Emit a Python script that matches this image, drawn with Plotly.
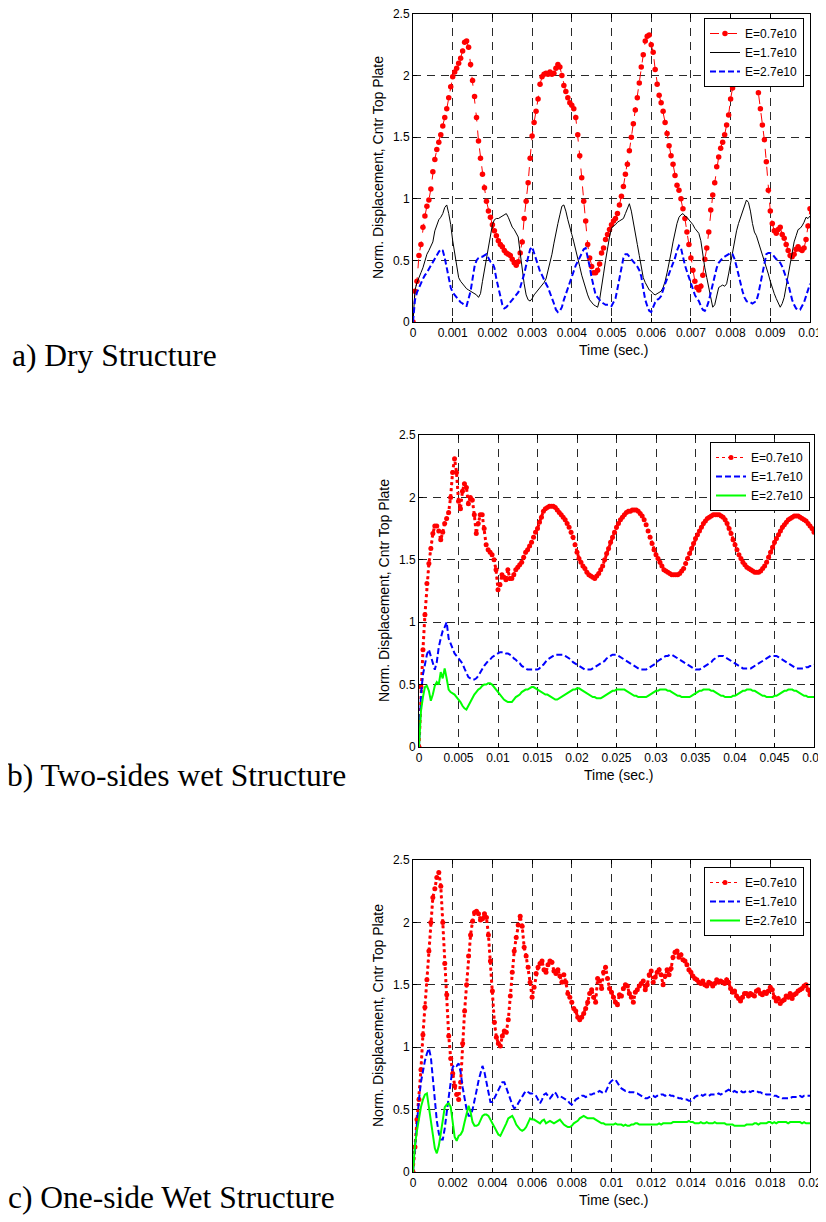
"""Normalised centre-plate displacement vs time for three structure cases.

Three stacked MATLAB-style panels (dry, two-sides wet, one-side wet),
each with a caption to its left.
"""

import numpy as np
import plotly.graph_objects as go

PAGE_W, PAGE_H = 826, 1222
BODY_MARGIN = 8  # default page margin around the plot div
W, H = PAGE_W - BODY_MARGIN, PAGE_H - BODY_MARGIN
FONT = "Liberation Sans, Arial, sans-serif"
SERIF = "Liberation Serif, Times New Roman, serif"

# ---- panel a: dry structure, sampled every 0.05 ms ----
A_DT = 0.00005
A_RED = [
    0.00, 0.25, 0.33, 0.54, 0.63, 0.77, 0.86, 0.94, 0.99, 1.08,
    1.22, 1.32, 1.40, 1.46, 1.52, 1.59, 1.66, 1.73, 1.82, 1.91,
    1.99, 2.03, 2.06, 2.10, 2.14, 2.20, 2.27, 2.28, 2.23, 2.09,
    1.96, 1.83, 1.66, 1.47, 1.33, 1.20, 1.09, 0.98, 0.90, 0.85,
    0.79, 0.74, 0.70, 0.66, 0.63, 0.61, 0.58, 0.56, 0.55, 0.54,
    0.51, 0.48, 0.46, 0.49, 0.56, 0.65, 0.84, 0.98, 1.13, 1.33,
    1.51, 1.62, 1.71, 1.81, 1.93, 1.99, 2.01, 2.02, 2.01, 2.03,
    2.01, 2.02, 2.06, 2.09, 2.07, 2.00, 1.92, 1.87, 1.82, 1.78,
    1.76, 1.73, 1.66, 1.52, 1.35, 1.17, 0.98, 0.82, 0.63, 0.52,
    0.45, 0.40, 0.40, 0.42, 0.47, 0.56, 0.60, 0.67, 0.71, 0.75,
    0.79, 0.82, 0.84, 0.88, 0.95, 1.02, 1.10, 1.20, 1.28, 1.39,
    1.50, 1.61, 1.72, 1.82, 1.94, 2.07, 2.17, 2.28, 2.32, 2.33,
    2.25, 2.19, 2.05, 1.93, 1.84, 1.78, 1.71, 1.62, 1.53, 1.43,
    1.35, 1.28, 1.19, 1.11, 1.07, 1.00, 0.92, 0.84, 0.73, 0.63,
    0.52, 0.42, 0.33, 0.28, 0.26, 0.29, 0.38, 0.51, 0.60, 0.73,
    0.91, 1.03, 1.13, 1.26, 1.34, 1.41, 1.46, 1.52, 1.60, 1.68,
    1.81, 1.90, 1.95, 1.99, 1.98, 1.99, 2.01, 2.03, 2.05, 2.07,
    2.08, 2.07, 2.04, 1.97, 1.86, 1.73, 1.60, 1.48, 1.30, 1.07,
    0.90, 0.80, 0.74, 0.72, 0.75, 0.77, 0.71, 0.68, 0.63, 0.58,
    0.54, 0.53, 0.55, 0.59, 0.61, 0.59, 0.58, 0.60, 0.67, 0.78,
    0.92,
]
A_BLACK = [
    0.00, 0.26, 0.32, 0.37, 0.40, 0.44, 0.49, 0.55, 0.58, 0.61,
    0.65, 0.74, 0.79, 0.83, 0.85, 0.88, 0.93, 0.95, 0.88, 0.79,
    0.66, 0.55, 0.44, 0.36, 0.33, 0.31, 0.29, 0.27, 0.26, 0.25,
    0.24, 0.23, 0.22, 0.20, 0.23, 0.33, 0.42, 0.51, 0.60, 0.69,
    0.79, 0.83, 0.84, 0.84, 0.85, 0.86, 0.87, 0.88, 0.85, 0.80,
    0.77, 0.75, 0.72, 0.69, 0.56, 0.42, 0.31, 0.22, 0.18, 0.17,
    0.19, 0.22, 0.24, 0.26, 0.28, 0.30, 0.32, 0.35, 0.41, 0.47,
    0.55, 0.64, 0.73, 0.80, 0.87, 0.94, 0.95, 0.90, 0.83, 0.76,
    0.71, 0.65, 0.59, 0.52, 0.45, 0.38, 0.32, 0.26, 0.22, 0.18,
    0.16, 0.14, 0.13, 0.12, 0.18, 0.27, 0.39, 0.50, 0.60, 0.69,
    0.76, 0.78, 0.79, 0.81, 0.82, 0.83, 0.84, 0.88, 0.92, 0.96,
    0.90, 0.82, 0.73, 0.63, 0.54, 0.43, 0.36, 0.32, 0.29, 0.26,
    0.25, 0.23, 0.22, 0.23, 0.24, 0.25, 0.28, 0.33, 0.40, 0.47,
    0.56, 0.65, 0.74, 0.80, 0.85, 0.87, 0.88, 0.86, 0.85, 0.83,
    0.81, 0.79, 0.76, 0.74, 0.72, 0.66, 0.54, 0.44, 0.36, 0.28,
    0.20, 0.12, 0.14, 0.22, 0.28, 0.29, 0.30, 0.29, 0.31, 0.39,
    0.48, 0.57, 0.67, 0.74, 0.80, 0.85, 0.90, 0.94, 0.99, 0.97,
    0.90, 0.80, 0.73, 0.70, 0.65, 0.61, 0.56, 0.50, 0.45, 0.39,
    0.33, 0.27, 0.23, 0.19, 0.15, 0.12, 0.15, 0.20, 0.29, 0.38,
    0.47, 0.56, 0.65, 0.70, 0.75, 0.76, 0.78, 0.81, 0.85, 0.84,
    0.86,
]
A_BLUE = [
    0.00, 0.18, 0.24, 0.28, 0.31, 0.35, 0.38, 0.40, 0.43, 0.46,
    0.48, 0.52, 0.55, 0.57, 0.59, 0.58, 0.52, 0.44, 0.35, 0.28,
    0.24, 0.22, 0.20, 0.18, 0.16, 0.15, 0.13, 0.13, 0.18, 0.25,
    0.35, 0.45, 0.50, 0.52, 0.53, 0.53, 0.54, 0.55, 0.52, 0.49,
    0.48, 0.44, 0.35, 0.27, 0.20, 0.14, 0.11, 0.12, 0.14, 0.16,
    0.18, 0.20, 0.22, 0.24, 0.28, 0.33, 0.39, 0.46, 0.53, 0.59,
    0.61, 0.56, 0.50, 0.45, 0.41, 0.38, 0.34, 0.31, 0.28, 0.24,
    0.20, 0.15, 0.10, 0.08, 0.09, 0.12, 0.18, 0.23, 0.28, 0.32,
    0.37, 0.42, 0.46, 0.49, 0.52, 0.56, 0.59, 0.60, 0.53, 0.45,
    0.36, 0.28, 0.22, 0.20, 0.18, 0.16, 0.15, 0.14, 0.14, 0.14,
    0.13, 0.16, 0.19, 0.27, 0.36, 0.46, 0.52, 0.55, 0.55, 0.53,
    0.51, 0.49, 0.47, 0.45, 0.42, 0.37, 0.27, 0.18, 0.13, 0.09,
    0.08, 0.12, 0.16, 0.18, 0.19, 0.21, 0.27, 0.31, 0.35, 0.39,
    0.44, 0.48, 0.52, 0.58, 0.62, 0.60, 0.52, 0.46, 0.41, 0.36,
    0.32, 0.27, 0.22, 0.19, 0.17, 0.13, 0.10, 0.09, 0.12, 0.17,
    0.24, 0.30, 0.38, 0.44, 0.48, 0.50, 0.52, 0.53, 0.54, 0.55,
    0.56, 0.55, 0.51, 0.45, 0.38, 0.32, 0.25, 0.20, 0.17, 0.16,
    0.16, 0.15, 0.16, 0.17, 0.23, 0.31, 0.42, 0.50, 0.55, 0.56,
    0.56, 0.55, 0.53, 0.51, 0.50, 0.48, 0.45, 0.41, 0.36, 0.31,
    0.24, 0.18, 0.14, 0.11, 0.10, 0.10, 0.13, 0.16, 0.21, 0.26,
    0.31,
]

# ---- panel b: two-sides wet, sampled every 0.25 ms ----
B_DT = 0.00025
B_RED = [
    0.00, 0.48, 0.78, 1.06, 1.31, 1.47, 1.59, 1.71, 1.77, 1.77,
    1.73, 1.66, 1.72, 1.79, 1.83, 1.88, 2.00, 2.20, 2.31, 2.20,
    1.97, 1.91, 2.05, 2.11, 2.08, 1.95, 2.00, 1.98, 1.86, 1.71,
    1.79, 1.86, 1.86, 1.75, 1.62, 1.58, 1.56, 1.54, 1.50, 1.42,
    1.26, 1.30, 1.38, 1.36, 1.34, 1.42, 1.35, 1.35, 1.38, 1.42,
    1.44, 1.46, 1.48, 1.52, 1.56, 1.58, 1.61, 1.64, 1.68, 1.72,
    1.75, 1.80, 1.84, 1.89, 1.91, 1.92, 1.93, 1.93, 1.93, 1.92,
    1.90, 1.88, 1.86, 1.84, 1.82, 1.79, 1.76, 1.72, 1.68, 1.62,
    1.56, 1.51, 1.48, 1.45, 1.43, 1.40, 1.38, 1.37, 1.36, 1.35,
    1.37, 1.39, 1.42, 1.45, 1.50, 1.55, 1.59, 1.64, 1.68, 1.72,
    1.76, 1.79, 1.82, 1.84, 1.86, 1.88, 1.89, 1.89, 1.90, 1.90,
    1.90, 1.89, 1.87, 1.85, 1.82, 1.78, 1.73, 1.68, 1.63, 1.58,
    1.54, 1.51, 1.48, 1.45, 1.42, 1.41, 1.40, 1.39, 1.38, 1.38,
    1.38, 1.38, 1.39, 1.41, 1.43, 1.47, 1.51, 1.55, 1.59, 1.63,
    1.67, 1.70, 1.73, 1.76, 1.79, 1.81, 1.83, 1.84, 1.85, 1.86,
    1.86, 1.86, 1.86, 1.85, 1.84, 1.82, 1.79, 1.75, 1.71, 1.66,
    1.62, 1.58, 1.54, 1.51, 1.48, 1.46, 1.44, 1.43, 1.42, 1.41,
    1.40, 1.40, 1.40, 1.41, 1.43, 1.45, 1.48, 1.52, 1.56, 1.60,
    1.64, 1.67, 1.70, 1.73, 1.76, 1.78, 1.80, 1.82, 1.83, 1.84,
    1.85, 1.85, 1.85, 1.84, 1.83, 1.82, 1.81, 1.79, 1.77, 1.75,
    1.72,
]
B_BLUE = [
    0.00, 0.42, 0.58, 0.66, 0.74, 0.78, 0.73, 0.66, 0.62, 0.68,
    0.80, 0.87, 0.93, 0.96, 1.00, 0.87, 0.83, 0.78, 0.75, 0.73,
    0.71, 0.69, 0.67, 0.63, 0.59, 0.56, 0.55, 0.54, 0.54, 0.55,
    0.57, 0.60, 0.62, 0.65, 0.67, 0.69, 0.70, 0.72, 0.73, 0.74,
    0.75, 0.76, 0.76, 0.76, 0.75, 0.75, 0.74, 0.73, 0.71, 0.70,
    0.68, 0.67, 0.65, 0.64, 0.63, 0.62, 0.62, 0.62, 0.62, 0.62,
    0.62, 0.63, 0.65, 0.66, 0.68, 0.70, 0.71, 0.72, 0.73, 0.74,
    0.74, 0.74, 0.74, 0.74, 0.73, 0.72, 0.71, 0.70, 0.68, 0.67,
    0.66, 0.65, 0.64, 0.63, 0.62, 0.62, 0.62, 0.62, 0.63, 0.64,
    0.65, 0.66, 0.67, 0.68, 0.69, 0.71, 0.72, 0.73, 0.74, 0.74,
    0.74, 0.73, 0.72, 0.71, 0.70, 0.69, 0.68, 0.67, 0.66, 0.65,
    0.64, 0.63, 0.62, 0.62, 0.62, 0.62, 0.63, 0.64, 0.65, 0.66,
    0.67, 0.69, 0.70, 0.71, 0.72, 0.73, 0.73, 0.74, 0.74, 0.73,
    0.72, 0.71, 0.70, 0.69, 0.68, 0.67, 0.66, 0.65, 0.64, 0.63,
    0.62, 0.62, 0.62, 0.63, 0.64, 0.65, 0.66, 0.67, 0.68, 0.70,
    0.71, 0.72, 0.73, 0.73, 0.73, 0.72, 0.71, 0.70, 0.69, 0.68,
    0.67, 0.66, 0.65, 0.64, 0.63, 0.63, 0.63, 0.63, 0.63, 0.64,
    0.65, 0.66, 0.67, 0.68, 0.69, 0.70, 0.71, 0.72, 0.73, 0.73,
    0.73, 0.73, 0.72, 0.71, 0.70, 0.69, 0.68, 0.67, 0.66, 0.65,
    0.64, 0.63, 0.63, 0.63, 0.63, 0.63, 0.64, 0.64, 0.65, 0.65,
    0.66,
]
B_GREEN = [
    0.00, 0.29, 0.40, 0.48, 0.49, 0.45, 0.37, 0.42, 0.49, 0.52,
    0.50, 0.60, 0.55, 0.63, 0.55, 0.46, 0.44, 0.43, 0.42, 0.40,
    0.38, 0.36, 0.33, 0.31, 0.30, 0.33, 0.37, 0.40, 0.42, 0.44,
    0.46, 0.47, 0.49, 0.50, 0.50, 0.51, 0.51, 0.50, 0.48, 0.46,
    0.44, 0.42, 0.40, 0.38, 0.37, 0.36, 0.36, 0.36, 0.38, 0.40,
    0.41, 0.42, 0.44, 0.45, 0.46, 0.46, 0.47, 0.48, 0.48, 0.47,
    0.46, 0.45, 0.44, 0.43, 0.42, 0.42, 0.41, 0.40, 0.39, 0.38,
    0.38, 0.39, 0.40, 0.41, 0.42, 0.43, 0.44, 0.45, 0.46, 0.46,
    0.47, 0.47, 0.46, 0.45, 0.44, 0.43, 0.42, 0.41, 0.40, 0.40,
    0.39, 0.39, 0.39, 0.40, 0.41, 0.42, 0.43, 0.44, 0.45, 0.45,
    0.46, 0.46, 0.46, 0.46, 0.46, 0.45, 0.44, 0.43, 0.42, 0.41,
    0.41, 0.40, 0.40, 0.40, 0.40, 0.40, 0.41, 0.42, 0.43, 0.44,
    0.45, 0.45, 0.46, 0.46, 0.46, 0.46, 0.45, 0.45, 0.44, 0.43,
    0.42, 0.41, 0.41, 0.40, 0.40, 0.40, 0.40, 0.40, 0.41, 0.42,
    0.43, 0.44, 0.45, 0.45, 0.46, 0.46, 0.46, 0.46, 0.45, 0.45,
    0.44, 0.43, 0.42, 0.41, 0.41, 0.40, 0.40, 0.40, 0.40, 0.41,
    0.41, 0.42, 0.43, 0.44, 0.45, 0.45, 0.46, 0.46, 0.46, 0.45,
    0.45, 0.44, 0.43, 0.42, 0.41, 0.41, 0.40, 0.40, 0.40, 0.40,
    0.41, 0.41, 0.42, 0.43, 0.44, 0.45, 0.45, 0.46, 0.46, 0.46,
    0.45, 0.45, 0.44, 0.43, 0.42, 0.41, 0.41, 0.40, 0.40, 0.40,
    0.40,
]

# ---- panel c: one-side wet, sampled every 0.1 ms ----
C_DT = 0.0001
C_RED = [
    0.00, 0.20, 0.42, 0.58, 0.82, 1.10, 1.32, 1.54, 1.77, 2.00,
    2.20, 2.27, 2.36, 2.40, 2.29, 2.00, 1.67, 1.42, 1.09, 0.91,
    0.79, 0.69, 0.62, 0.58, 0.72, 1.03, 1.29, 1.50, 1.73, 1.90,
    2.01, 2.08, 2.09, 2.07, 2.02, 2.03, 2.07, 2.04, 1.90, 1.69,
    1.45, 1.20, 1.08, 1.03, 1.01, 1.09, 1.13, 1.12, 1.22, 1.41,
    1.60, 1.77, 1.88, 1.98, 2.05, 1.97, 1.80, 1.73, 1.64, 1.52,
    1.40, 1.48, 1.59, 1.64, 1.67, 1.69, 1.62, 1.60, 1.66, 1.69,
    1.68, 1.61, 1.59, 1.62, 1.57, 1.52, 1.58, 1.52, 1.43, 1.40,
    1.36, 1.31, 1.29, 1.24, 1.22, 1.24, 1.27, 1.31, 1.36, 1.43,
    1.46, 1.40, 1.36, 1.55, 1.53, 1.47, 1.60, 1.64, 1.55, 1.47,
    1.44, 1.40, 1.36, 1.34, 1.42, 1.41, 1.47, 1.50, 1.49, 1.43,
    1.40, 1.36, 1.44, 1.46, 1.49, 1.51, 1.53, 1.46, 1.50, 1.58,
    1.61, 1.52, 1.56, 1.60, 1.62, 1.58, 1.50, 1.57, 1.62, 1.58,
    1.63, 1.72, 1.76, 1.77, 1.72, 1.74, 1.70, 1.69, 1.66, 1.62,
    1.60, 1.57, 1.55, 1.54, 1.52, 1.51, 1.53, 1.50, 1.49, 1.52,
    1.51, 1.49, 1.51, 1.54, 1.52, 1.53, 1.52, 1.51, 1.54, 1.52,
    1.47, 1.44, 1.45, 1.41, 1.39, 1.37, 1.40, 1.43, 1.43, 1.41,
    1.43, 1.42, 1.41, 1.45, 1.46, 1.43, 1.42, 1.44, 1.43, 1.45,
    1.48, 1.46, 1.40, 1.37, 1.39, 1.35, 1.37, 1.38, 1.41, 1.40,
    1.43, 1.39, 1.42, 1.43, 1.45, 1.46, 1.47, 1.49, 1.50, 1.46,
    1.42,
]
C_BLUE = [
    0.00, 0.22, 0.42, 0.58, 0.72, 0.82, 0.89, 0.95, 0.99, 0.92,
    0.75, 0.57, 0.41, 0.31, 0.26, 0.26, 0.35, 0.48, 0.61, 0.73,
    0.84, 0.86, 0.85, 0.87, 0.80, 0.68, 0.58, 0.50, 0.45, 0.45,
    0.50, 0.59, 0.65, 0.73, 0.80, 0.85, 0.80, 0.72, 0.63, 0.56,
    0.56, 0.59, 0.62, 0.66, 0.69, 0.72, 0.72, 0.67, 0.62, 0.58,
    0.54, 0.51, 0.52, 0.55, 0.58, 0.61, 0.63, 0.65, 0.64, 0.63,
    0.63, 0.62, 0.61, 0.58, 0.55, 0.58, 0.62, 0.63, 0.61, 0.59,
    0.61, 0.64, 0.63, 0.60, 0.61, 0.60, 0.59, 0.58, 0.57, 0.55,
    0.54, 0.56, 0.58, 0.59, 0.60, 0.61, 0.61, 0.60, 0.61, 0.62,
    0.62, 0.63, 0.63, 0.64, 0.65, 0.64, 0.63, 0.64, 0.68, 0.71,
    0.73, 0.74, 0.74, 0.71, 0.69, 0.67, 0.66, 0.65, 0.65, 0.64,
    0.64, 0.64, 0.63, 0.63, 0.62, 0.61, 0.60, 0.59, 0.59, 0.60,
    0.61, 0.61, 0.60, 0.61, 0.61, 0.62, 0.62, 0.61, 0.62, 0.62,
    0.61, 0.61, 0.60, 0.60, 0.59, 0.59, 0.58, 0.58, 0.58, 0.57,
    0.57, 0.58, 0.60, 0.61, 0.61, 0.62, 0.61, 0.62, 0.62, 0.61,
    0.62, 0.62, 0.62, 0.62, 0.63, 0.62, 0.63, 0.64, 0.65, 0.66,
    0.65, 0.64, 0.65, 0.64, 0.64, 0.65, 0.64, 0.64, 0.65, 0.65,
    0.64, 0.65, 0.65, 0.65, 0.64, 0.64, 0.63, 0.63, 0.62, 0.62,
    0.62, 0.62, 0.61, 0.61, 0.60, 0.60, 0.59, 0.59, 0.59, 0.59,
    0.59, 0.60, 0.60, 0.60, 0.60, 0.61, 0.60, 0.61, 0.61, 0.61,
    0.61,
]
C_GREEN = [
    0.00, 0.22, 0.33, 0.44, 0.52, 0.58, 0.62, 0.63, 0.52, 0.38,
    0.27, 0.19, 0.15, 0.21, 0.31, 0.42, 0.52, 0.54, 0.55, 0.52,
    0.38, 0.28, 0.25, 0.29, 0.30, 0.33, 0.40, 0.48, 0.53, 0.48,
    0.40, 0.37, 0.37, 0.38, 0.42, 0.45, 0.46, 0.46, 0.45, 0.42,
    0.39, 0.35, 0.32, 0.30, 0.29, 0.32, 0.35, 0.39, 0.43, 0.44,
    0.45, 0.42, 0.38, 0.36, 0.34, 0.33, 0.34, 0.36, 0.39, 0.43,
    0.42, 0.42, 0.41, 0.40, 0.39, 0.41, 0.42, 0.39, 0.40, 0.41,
    0.40, 0.39, 0.40, 0.41, 0.42, 0.40, 0.38, 0.37, 0.36, 0.36,
    0.37, 0.39, 0.40, 0.41, 0.43, 0.44, 0.45, 0.44, 0.43, 0.43,
    0.43, 0.43, 0.42, 0.41, 0.40, 0.39, 0.39, 0.38, 0.38, 0.38,
    0.38, 0.38, 0.39, 0.38, 0.38, 0.38, 0.37, 0.38, 0.37, 0.37,
    0.38, 0.38, 0.39, 0.39, 0.38, 0.38, 0.38, 0.38, 0.38, 0.38,
    0.38, 0.38, 0.38, 0.38, 0.39, 0.38, 0.39, 0.39, 0.39, 0.39,
    0.39, 0.40, 0.40, 0.40, 0.40, 0.40, 0.40, 0.40, 0.40, 0.41,
    0.40, 0.40, 0.39, 0.39, 0.39, 0.40, 0.39, 0.39, 0.40, 0.39,
    0.39, 0.39, 0.40, 0.39, 0.39, 0.39, 0.39, 0.39, 0.38, 0.38,
    0.38, 0.38, 0.37, 0.37, 0.37, 0.37, 0.37, 0.37, 0.38, 0.38,
    0.38, 0.38, 0.39, 0.39, 0.38, 0.39, 0.39, 0.39, 0.39, 0.40,
    0.40, 0.39, 0.40, 0.39, 0.40, 0.40, 0.40, 0.40, 0.40, 0.39,
    0.40, 0.40, 0.40, 0.40, 0.40, 0.40, 0.39, 0.40, 0.39, 0.39,
    0.39,
]

# ---- ticks and labels ----
Y_TICKVALS = [0, 0.5, 1, 1.5, 2, 2.5]
Y_TICKTEXT = ["0", "0.5", "1", "1.5", "2", "2.5"]
A_XTICKVALS = [0, 0.001, 0.002, 0.003, 0.004, 0.005, 0.006, 0.007, 0.008, 0.009, 0.01]
A_XTICKTEXT = ["0", "0.001", "0.002", "0.003", "0.004", "0.005",
               "0.006", "0.007", "0.008", "0.009", "0.01"]
B_XTICKVALS = [0, 0.005, 0.01, 0.015, 0.02, 0.025, 0.03, 0.035, 0.04, 0.045, 0.05]
B_XTICKTEXT = ["0", "0.005", "0.01", "0.015", "0.02", "0.025",
               "0.03", "0.035", "0.04", "0.045", "0.05"]
C_XTICKVALS = [0, 0.002, 0.004, 0.006, 0.008, 0.01, 0.012, 0.014, 0.016, 0.018, 0.02]
C_XTICKTEXT = ["0", "0.002", "0.004", "0.006", "0.008", "0.01",
               "0.012", "0.014", "0.016", "0.018", "0.02"]
LEGEND_NAMES = ["E=0.7e10", "E=1.7e10", "E=2.7e10"]
CAPTIONS = ["a) Dry Structure", "b) Two-sides wet Structure", "c) One-side Wet Structure"]
Y_TITLE = "Norm. Displacement, Cntr Top Plate"
X_TITLE = "Time (sec.)"

# page-pixel layout: (left, right, top, bottom) of each plot box
BOXES = [(413, 810, 14, 322), (419, 814, 435, 747), (413, 810, 860, 1172)]
LEGEND_CORNERS = [(804, 18), (810, 442), (804, 867)]  # top-right corner
CAPTION_POS = [(10, 355), (5, 776), (6, 1197)]

RED = "#ff0000"
BLUE = "#0000ff"
GREEN = "#00ff00"


def px(x):
    return (x - BODY_MARGIN) / W


def py(y):
    return 1 - (y - BODY_MARGIN) / H


def times(values, dt):
    return np.arange(len(values)) * dt


def axis_style(domain, anchor, tickvals, ticktext, rng):
    return dict(
        domain=domain,
        anchor=anchor,
        range=rng,
        tickvals=tickvals,
        ticktext=ticktext,
        automargin=False,
        ticklabeloverflow="allow",
        showline=True,
        linecolor="black",
        linewidth=1,
        mirror="ticks",
        ticks="inside",
        ticklen=4,
        tickcolor="black",
        showgrid=True,
        gridcolor="#2a2a2a",
        gridwidth=1,
        griddash="8px,6px",
        zeroline=False,
        tickfont=dict(family=FONT, size=12, color="black"),
    )


def add_series(fig, t, y, axes, legend, name, line, marker=None, band=None):
    xa, ya = axes
    if band is not None:
        # dense sample markers in the source merge into a thick beaded band
        fig.add_trace(go.Scatter(x=t, y=y, mode="lines", line=band,
                                 xaxis=xa, yaxis=ya, showlegend=False,
                                 hoverinfo="skip", legend=legend))
    fig.add_trace(go.Scatter(
        x=t, y=y, mode="lines+markers" if marker else "lines",
        line=line, marker=marker, name=name,
        xaxis=xa, yaxis=ya, legend=legend))


def main() -> None:
    fig = go.Figure()

    red_dash = dict(color=RED, width=1, dash="dash")
    red_dot = dict(color=RED, width=1, dash="dot")
    red_band = dict(color=RED, width=3, dash="dot")
    dot_marker = dict(color=RED, size=5)
    blue_dash = dict(color=BLUE, width=2, dash="6px,3px")
    green_solid = dict(color=GREEN, width=2)

    # panel a
    ax = ("x", "y")
    add_series(fig, times(A_RED, A_DT), A_RED, ax, "legend", LEGEND_NAMES[0],
               red_dash, dict(color=RED, size=5.5))
    add_series(fig, times(A_BLACK, A_DT), A_BLACK, ax, "legend", LEGEND_NAMES[1],
               dict(color="black", width=1))
    add_series(fig, times(A_BLUE, A_DT), A_BLUE, ax, "legend", LEGEND_NAMES[2], blue_dash)

    # panel b
    ax = ("x2", "y2")
    add_series(fig, times(B_RED, B_DT), B_RED, ax, "legend2", LEGEND_NAMES[0],
               red_dot, dot_marker, band=red_band)
    add_series(fig, times(B_BLUE, B_DT), B_BLUE, ax, "legend2", LEGEND_NAMES[1], blue_dash)
    add_series(fig, times(B_GREEN, B_DT), B_GREEN, ax, "legend2", LEGEND_NAMES[2], green_solid)

    # panel c
    ax = ("x3", "y3")
    add_series(fig, times(C_RED, C_DT), C_RED, ax, "legend3", LEGEND_NAMES[0],
               red_dot, dot_marker, band=red_band)
    add_series(fig, times(C_BLUE, C_DT), C_BLUE, ax, "legend3", LEGEND_NAMES[1], blue_dash)
    add_series(fig, times(C_GREEN, C_DT), C_GREEN, ax, "legend3", LEGEND_NAMES[2], green_solid)

    layout = dict(
        width=W,
        height=H,
        margin=dict(l=0, r=0, t=0, b=0, pad=0, autoexpand=False),
        paper_bgcolor="white",
        plot_bgcolor="white",
        font=dict(family=FONT, size=12, color="black"),
    )

    xticks = [(A_XTICKVALS, A_XTICKTEXT), (B_XTICKVALS, B_XTICKTEXT), (C_XTICKVALS, C_XTICKTEXT)]
    annotations = []
    for k, (left, right, top, bottom) in enumerate(BOXES):
        suffix = "" if k == 0 else str(k + 1)
        tv, tt = xticks[k]
        layout["xaxis" + suffix] = axis_style(
            [px(left), px(right)], "y" + suffix, tv, tt, [tv[0], tv[-1]])
        layout["yaxis" + suffix] = axis_style(
            [py(bottom), py(top)], "x" + suffix, Y_TICKVALS, Y_TICKTEXT, [0, 2.5])

        lx, ly = LEGEND_CORNERS[k]
        layout["legend" + suffix] = dict(
            x=px(lx), y=py(ly), xanchor="right", yanchor="top",
            bgcolor="white", bordercolor="black", borderwidth=1,
            font=dict(family=FONT, size=12, color="black"),
            tracegroupgap=0,
        )

        # axis titles
        annotations.append(dict(
            text=X_TITLE, x=px((left + right) / 2 + 2), y=py(bottom + 28),
            xref="paper", yref="paper", showarrow=False,
            xanchor="center", yanchor="middle",
            font=dict(family=FONT, size=14, color="black")))
        annotations.append(dict(
            text=Y_TITLE, x=px(left - 35), y=py((top + bottom) / 2),
            xref="paper", yref="paper", showarrow=False, textangle=-90,
            xanchor="center", yanchor="middle",
            font=dict(family=FONT, size=14, color="black")))

        cx, cy = CAPTION_POS[k]
        annotations.append(dict(
            text=CAPTIONS[k], x=px(cx), y=py(cy),
            xref="paper", yref="paper", showarrow=False,
            xanchor="left", yanchor="middle",
            font=dict(family=SERIF, size=31.5, color="black")))

    layout["annotations"] = annotations
    fig.update_layout(**layout)

    fig.write_html("out.html")


if __name__ == "__main__":
    main()
